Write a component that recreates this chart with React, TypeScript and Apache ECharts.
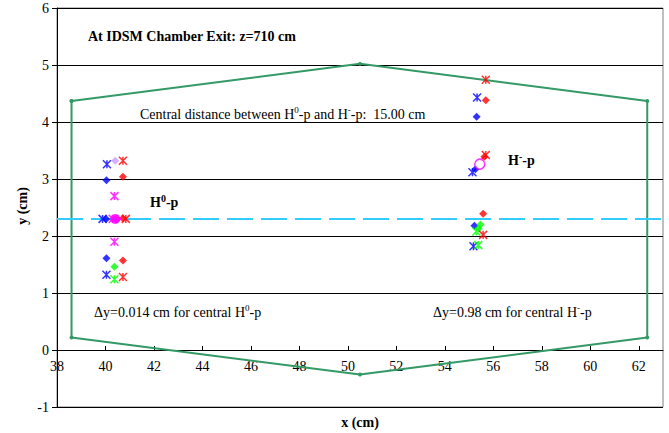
import React, { useEffect, useRef } from "react";
import * as echarts from "echarts";

// Axis ticks
const xTicks = [38, 40, 42, 44, 46, 48, 50, 52, 54, 56, 58, 60, 62];
const yTicks = [-1, 0, 1, 2, 3, 4, 5, 6];

// Chamber aperture outline (closed hexagon), x/y in cm
const apertureOutline: [number, number][] = [
  [38.6, 4.37], [50.5, 5.02], [62.35, 4.37], [62.35, 0.22],
  [50.5, -0.43], [38.6, 0.22], [38.6, 4.37],
];

// Beam centre height
const centerLineY = 2.3;
const centerLineX = [38, 63];

// Particle positions (x, y) in cm, grouped by marker
const blueDiamond: [number, number][] = [
  [40.04, 2.98], [40.03, 2.3], [40.04, 1.61],
  [55.31, 4.09], [55.26, 3.17], [55.22, 2.18],
];
const blueStar: [number, number][] = [
  [40.06, 3.26], [39.88, 2.3], [40.04, 1.32],
  [55.33, 4.43], [55.14, 3.12], [55.18, 1.82],
];
const redDiamond: [number, number][] = [
  [40.72, 3.04], [40.72, 2.31], [40.72, 1.57],
  [55.69, 4.38], [55.63, 3.39], [55.58, 2.39],
];
const redStar: [number, number][] = [
  [40.72, 3.32], [40.84, 2.3], [40.72, 1.28],
  [55.69, 4.74], [55.69, 3.42], [55.58, 2.02],
];
const magentaStar: [number, number][] = [
  [40.37, 2.7], [40.3, 2.3], [40.37, 1.9],
];
const magentaDiamond: [number, number][] = [[40.5, 2.3]];
const magentaDisc: [number, number][] = [[40.4, 2.3]];
const magentaRing: [number, number][] = [[55.44, 3.26]];
const lavenderDiamond: [number, number][] = [[40.4, 3.32]];
const greenDiamond: [number, number][] = [
  [40.37, 1.46], [55.47, 2.2], [55.4, 2.13],
];
const greenStar: [number, number][] = [
  [40.37, 1.24], [55.3, 2.08], [55.38, 1.84],
];

const FONT = "'Liberation Serif', 'Times New Roman', serif";
const STAR = "path://M0,0L10,10M10,0L0,10M5,0L5,10";

function starSeries(data: [number, number][], color: string) {
  return {
    type: "scatter",
    data,
    symbol: STAR,
    symbolSize: 8,
    itemStyle: { color: "none", borderColor: color, borderWidth: 1.5 },
    z: 5,
  };
}

function diamondSeries(data: [number, number][], color: string) {
  return {
    type: "scatter",
    data,
    symbol: "diamond",
    symbolSize: 8,
    itemStyle: { color },
    z: 5,
  };
}

const supRich = {
  n: { fontFamily: FONT, fontSize: 14, lineHeight: 17, fill: "#000" },
  s: { fontFamily: FONT, fontSize: 9, lineHeight: 10, verticalAlign: "top", fill: "#000" },
  bn: { fontFamily: FONT, fontSize: 14, fontWeight: "bold", lineHeight: 17, fill: "#000" },
  bs: { fontFamily: FONT, fontSize: 10, fontWeight: "bold", lineHeight: 10, verticalAlign: "top", fill: "#000" },
};

export default function App() {
  const ref = useRef<HTMLDivElement>(null);

  useEffect(() => {
    if (!ref.current) return;
    const chart = echarts.init(ref.current, undefined, { renderer: "svg" });

    chart.setOption({
      animation: false,
      backgroundColor: "#fff",
      grid: {
        left: 57,
        top: 8,
        right: 6,
        bottom: 26,
        containLabel: false,
        show: true,
        backgroundColor: "#fff",
        borderColor: "#808080",
        borderWidth: 1,
      },
      xAxis: {
        type: "value",
        min: 38,
        max: 63,
        interval: 2,
        // axis crosses the y axis at y = 0 (one unit above the bottom of the plot)
        offset: -57,
        axisLine: { onZero: false, lineStyle: { color: "#000", width: 1 } },
        axisTick: {
          show: true,
          inside: true,
          length: 4,
          customValues: xTicks,
          lineStyle: { color: "#000" },
        },
        axisLabel: {
          customValues: xTicks,
          color: "#000",
          fontFamily: FONT,
          fontSize: 14,
          margin: 9,
        },
        splitLine: { show: false },
      },
      yAxis: {
        type: "value",
        min: -1,
        max: 6,
        interval: 1,
        axisLine: { show: true, onZero: false, lineStyle: { color: "#000", width: 1 } },
        axisTick: { show: true, inside: false, length: 5, lineStyle: { color: "#000" } },
        axisLabel: {
          customValues: yTicks,
          color: "#000",
          fontFamily: FONT,
          fontSize: 14,
          margin: 8,
        },
        splitLine: { show: true, lineStyle: { color: "#000", width: 1 } },
      },
      graphic: [
        {
          type: "text",
          left: 88,
          top: 29,
          style: {
            text: "At IDSM Chamber Exit: z=710 cm",
            font: `bold 14px ${FONT}`,
            fill: "#000",
          },
        },
        {
          type: "text",
          x: 140,
          y: 114,
          style: {
            text: "{n|Central distance between H}{s|0}{n|-p and H}{s|-}{n|-p:  15.00 cm}",
            rich: supRich,
            verticalAlign: "middle",
          },
        },
        {
          type: "text",
          x: 94,
          y: 312,
          style: {
            text: "{n|Δy=0.014 cm for central H}{s|0}{n|-p}",
            rich: supRich,
            verticalAlign: "middle",
          },
        },
        {
          type: "text",
          x: 433,
          y: 312,
          style: {
            text: "{n|Δy=0.98 cm for central H}{s|-}{n|-p}",
            rich: supRich,
            verticalAlign: "middle",
          },
        },
        {
          type: "text",
          x: 150,
          y: 202,
          style: { text: "{bn|H}{bs|0}{bn|-p}", rich: supRich, verticalAlign: "middle" },
        },
        {
          type: "text",
          x: 508,
          y: 160,
          style: { text: "{bn|H}{bs|-}{bn|-p}", rich: supRich, verticalAlign: "middle" },
        },
        {
          type: "text",
          x: 360,
          y: 422,
          style: {
            text: "x (cm)",
            font: `bold 14px ${FONT}`,
            fill: "#000",
            align: "center",
            verticalAlign: "middle",
          },
        },
        {
          type: "text",
          x: 22,
          y: 206,
          rotation: Math.PI / 2,
          style: {
            text: "y (cm)",
            font: `bold 14px ${FONT}`,
            fill: "#000",
            align: "center",
            verticalAlign: "middle",
          },
        },
      ],
      series: [
        {
          type: "line",
          data: apertureOutline,
          symbol: "circle",
          symbolSize: 4,
          showSymbol: true,
          lineStyle: { color: "#339966", width: 2 },
          itemStyle: { color: "#339966" },
          z: 3,
        },
        {
          type: "line",
          data: centerLineX.map((x) => [x, centerLineY]),
          symbol: "none",
          lineStyle: { color: "#33CCFF", width: 2, type: [26, 8] },
          z: 4,
        },
        diamondSeries(lavenderDiamond, "#CC99FF"),
        diamondSeries(blueDiamond, "#0000FF"),
        diamondSeries(redDiamond, "#FF0000"),
        diamondSeries(greenDiamond, "#00FF00"),
        diamondSeries(magentaDiamond, "#FF00FF"),
        starSeries(blueStar, "#0000FF"),
        starSeries(redStar, "#FF0000"),
        starSeries(magentaStar, "#FF00FF"),
        starSeries(greenStar, "#00FF00"),
        {
          type: "scatter",
          data: magentaDisc,
          symbol: "circle",
          symbolSize: 10,
          itemStyle: { color: "#FF00FF" },
          z: 6,
        },
        {
          type: "scatter",
          data: magentaRing,
          symbol: "circle",
          symbolSize: 10,
          itemStyle: { color: "#fff", borderColor: "#FF00FF", borderWidth: 1.5 },
          z: 6,
        },
      ],
    });

    return () => chart.dispose();
  }, []);

  return (
    <div
      ref={ref}
      style={{ position: "fixed", left: 0, top: 0, width: 669, height: 433 }}
    />
  );
}
